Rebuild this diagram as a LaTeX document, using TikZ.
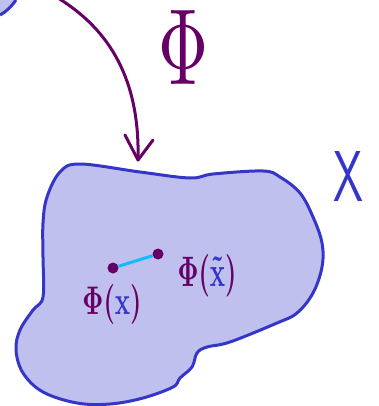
\documentclass[tikz,border=0pt]{standalone}
\usepackage{graphicx}
\definecolor{ink}{HTML}{660066}
\definecolor{xblue}{HTML}{3535C8}
\definecolor{blobfill}{HTML}{C0C0EE}
\definecolor{segcyan}{HTML}{11BBFF}
\tikzset{
  blobline/.style={draw=xblue, line width=3pt, fill=blobfill, line join=round},
  inkline/.style={draw=ink, line width=3pt, line cap=round, line join=round},
  dotnode/.style={circle, fill=ink, inner sep=0pt, minimum size=11pt},
  lbl/.style={inner sep=0pt, text=ink},
}
\begin{document}
\begin{tikzpicture}[x=1pt,y=-1pt]
\useasboundingbox (0,0) rectangle (379,406);
% corner blob
\fill[blobfill] (0,0) -- (0,15) .. controls (6,12) and (12,6) .. (16,0) -- cycle;
\draw[draw=xblue, line width=3pt] (0,15) .. controls (6,12) and (12,6) .. (16,0);
% main blob
\draw[blobline] plot[smooth cycle, tension=0.6] coordinates {
 (80,164) (140,172) (190,178) (213,174) (263,171) (280,177) (300,193) (313,217)
 (322,243) (322,267) (313,293) (297,313) (277,323) (230,342) (207,347) (197,353)
 (192,367) (180,378) (173,387) (143,398) (110,404) (77,403) (43,392) (23,373)
 (16,350) (20,330) (33,310) (43,297) (43,257) (43,223) (47,197) (60,172)};
% arrow
\coordinate (as) at (58,-2);
\coordinate (at) at (138,160);
\coordinate (al) at (125,135);
\coordinate (ar) at (153,140);
\draw[inkline] (as) .. controls (110,30) and (140,80) .. (at);
\draw[inkline] (al) -- (at) -- (ar);
% big Phi
\node[inner sep=0pt, text=ink] (phi) at (184,47) {\resizebox{50pt}{74pt}{$\Phi$}};
% X label
\node[inner sep=0pt, text=xblue] (X) at (348,176) {\resizebox{30pt}{50pt}{\sffamily X}};
% points and segment
\node[dotnode] (p) at (113,268) {};
\node[dotnode] (q) at (158,254) {};
\draw[segcyan, line width=3pt] (p) -- (q);
% labels
\node[lbl] (lp) at (112,304) {\resizebox{59pt}{30pt}{\boldmath$\Phi(\textcolor{xblue}{\mathrm{x}})$}};
\node[lbl] (lq) at (207,276) {\resizebox{59pt}{32pt}{\boldmath$\Phi(\textcolor{xblue}{\tilde{\mathrm{x}}})$}};
\end{tikzpicture}
\end{document}
